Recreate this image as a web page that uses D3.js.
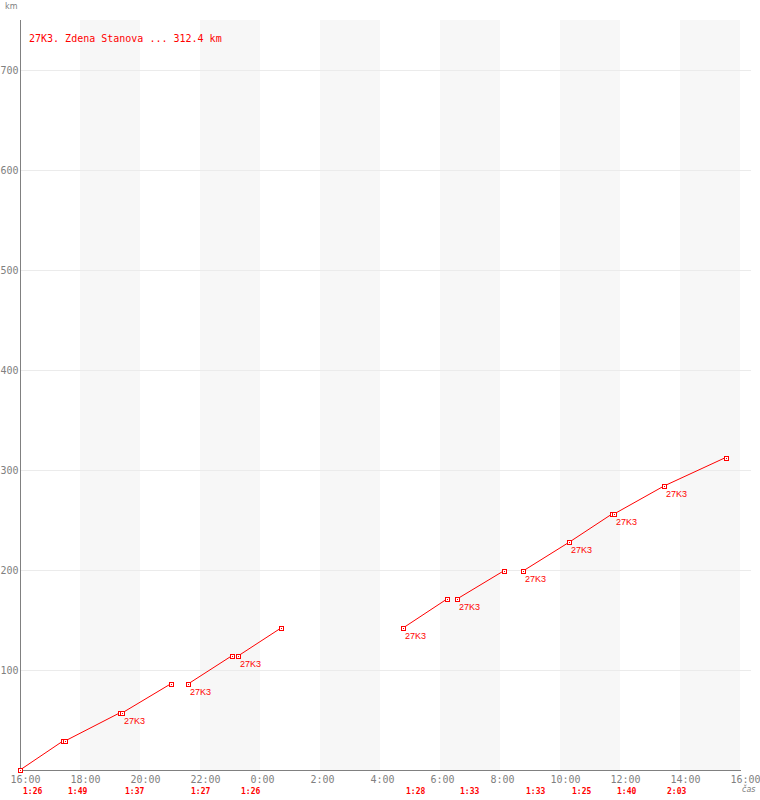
<!DOCTYPE html>
<html>
<head>
<meta charset="utf-8">
<script src="https://cdn.jsdelivr.net/npm/d3@7"></script>
<style>
  html, body { margin: 0; padding: 0; background: #fff; }
  svg { display: block; }
</style>
</head>
<body>
<svg id="chart" width="760" height="800"></svg>
<script>
// ---- data ----
const title = "27K3. Zdena Stanova ... 312.4 km";
const legStart = ["16:00","17:30","19:24","21:36","23:16","04:46","06:34","08:46","10:19","11:48","13:28"];
const legDuration = ["1:26","1:49","1:37","1:27","1:26","1:28","1:33","1:33","1:25","1:40","2:03"];
const legKmFrom = [0, 29, 57, 86, 114, 142, 171, 199, 228, 256, 284];
const legKmTo   = [29, 57, 86, 114, 142, 171, 199, 228, 256, 284, 312.4];
const legLabeled = [false, false, true, true, true, true, true, true, true, true, true];
const pointLabel = "27K3";
const xTickLabels = ["16:00","18:00","20:00","22:00","0:00","2:00","4:00","6:00","8:00","10:00","12:00","14:00","16:00"];
const yTicks = [100, 200, 300, 400, 500, 600, 700];

// ---- helpers ----
const toMin = s => { const [h, m] = s.split(":").map(Number); return h * 60 + m; };
const sinceStart = s => ((toMin(s) - 16 * 60) % 1440 + 1440) % 1440;

const legs = legStart.map((s, i) => {
  const t0 = sinceStart(s);
  return { t0, t1: t0 + toMin(legDuration[i]), k0: legKmFrom[i], k1: legKmTo[i], dur: legDuration[i], lab: legLabeled[i] };
});

const svg = d3.select("#chart");
const x = d3.scaleLinear().domain([0, 1440]).range([20, 740]);
const y = d3.scaleLinear().domain([0, 750]).range([770, 20]);
const red = "#ff0000", gray = "#808080";
const mono = "'DejaVu Sans Mono', monospace";

// shaded bands (every other 2h block)
const bands = d3.range(120, 1440, 240);
svg.append("g").selectAll("rect").data(bands).join("rect")
  .attr("x", d => x(d)).attr("y", y(750))
  .attr("width", d => x(d + 120) - x(d)).attr("height", y(0) - y(750))
  .attr("fill", "#f7f7f7");

// horizontal gridlines
svg.append("g").selectAll("line").data(yTicks).join("line")
  .attr("x1", x(0)).attr("x2", 751)
  .attr("y1", d => Math.round(y(d)) + 0.5).attr("y2", d => Math.round(y(d)) + 0.5)
  .attr("stroke", "#ebebeb").attr("stroke-width", 1);

// y axis
const yAxis = d3.axisLeft(y).tickValues(yTicks).tickSize(0).tickPadding(2).tickFormat(d3.format("d"));
const gy = svg.append("g").attr("transform", "translate(20.5,0)").call(yAxis);
gy.select(".domain").attr("stroke", gray).attr("d", `M0,${y(750)}V${y(0)}`);
gy.selectAll("text").attr("fill", gray).attr("font-family", mono).attr("font-size", 10).attr("dy", "0.35em");

// x axis
const xTicks = d3.range(0, 1441, 120);
const xAxis = d3.axisBottom(x).tickValues(xTicks).tickSize(0).tickPadding(0).tickFormat((d, i) => xTickLabels[i]);
const gx = svg.append("g").attr("transform", "translate(0,770.5)").call(xAxis);
gx.select(".domain").attr("stroke", gray).attr("d", `M${x(0)},0H${x(1440) + 1}`);
gx.selectAll("text").attr("fill", gray).attr("font-family", mono).attr("font-size", 10)
  .attr("text-anchor", "start").attr("dx", -10).attr("y", 12.5).attr("dy", 0);

// axis unit labels
svg.append("text").attr("x", 5).attr("y", 9).text("km")
  .attr("fill", gray).attr("font-family", "'DejaVu Sans', sans-serif").attr("font-size", 8);
svg.append("text").attr("x", 742).attr("y", 792).text("čas")
  .attr("fill", gray).attr("font-family", "'DejaVu Sans', sans-serif").attr("font-size", 8).attr("font-style", "italic");

// title
svg.append("text").attr("x", 29).attr("y", 42).text(title)
  .attr("fill", red).attr("font-family", mono).attr("font-size", 10);

// leg lines
svg.append("g").selectAll("line").data(legs).join("line")
  .attr("x1", d => x(d.t0)).attr("y1", d => y(d.k0))
  .attr("x2", d => x(d.t1)).attr("y2", d => y(d.k1))
  .attr("stroke", red).attr("stroke-width", 1);

// markers at start and end of each leg
const pts = [];
legs.forEach(l => { pts.push({ t: l.t0, k: l.k0 }); pts.push({ t: l.t1, k: l.k1 }); });
const mk = svg.append("g").selectAll("g").data(pts).join("g")
  .attr("transform", d => `translate(${Math.round(x(d.t))},${Math.round(y(d.k))})`);
mk.append("rect").attr("x", -1.5).attr("y", -1.5).attr("width", 4).attr("height", 4)
  .attr("fill", "#fff").attr("stroke", red).attr("stroke-width", 1);
mk.append("rect").attr("x", 0).attr("y", 0).attr("width", 1).attr("height", 1).attr("fill", red);

// point labels
svg.append("g").selectAll("text").data(legs.filter(l => l.lab)).join("text")
  .attr("x", d => Math.round(x(d.t0)) + 2).attr("y", d => Math.round(y(d.k0)) + 11)
  .text(pointLabel)
  .attr("fill", red).attr("font-family", "'Liberation Sans', Arial, sans-serif").attr("font-size", 9);

// leg durations under axis
svg.append("g").selectAll("text").data(legs).join("text")
  .attr("x", d => Math.round(x(d.t0)) + 3).attr("y", 794)
  .text(d => d.dur)
  .attr("fill", red).attr("font-family", mono).attr("font-size", 8).attr("font-weight", "bold");
</script>
</body>
</html>
